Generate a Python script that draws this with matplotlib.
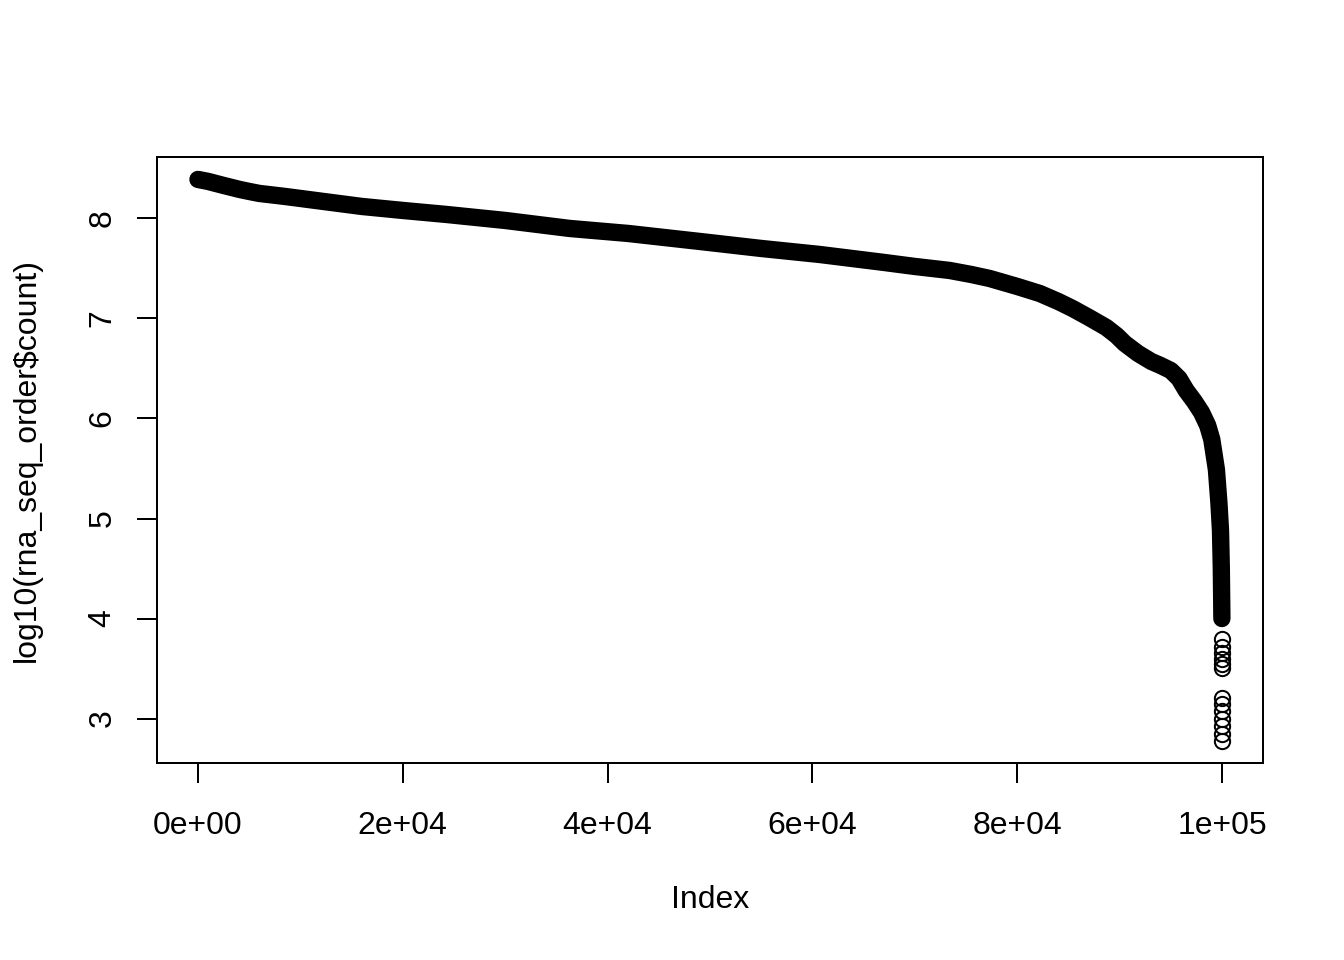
import numpy as np
import matplotlib
matplotlib.use("Agg")
import matplotlib.pyplot as plt

# sorted read counts (log10)
curve_idx = [1, 1000, 2500, 4070, 5000, 6000, 8500, 10000, 12240, 16000,
             20000, 24260, 30000, 36300, 42000, 49000, 55000, 60700, 67000,
             70000, 73400, 75500, 77300, 80000, 82200, 84000, 85400, 87000,
             88700, 89700, 90500, 91800, 93100, 94000, 95000, 95800, 96500,
             97300, 98000, 98600, 99000, 99450, 99700, 99850, 99930, 99970,
             99985]
curve_val = [8.39, 8.37, 8.33, 8.29, 8.27, 8.25, 8.22, 8.20, 8.17, 8.12,
             8.08, 8.04, 7.98, 7.90, 7.85, 7.77, 7.70, 7.64, 7.56,
             7.52, 7.48, 7.44, 7.40, 7.32, 7.25, 7.17, 7.10, 7.01,
             6.91, 6.83, 6.75, 6.65, 6.57, 6.53, 6.48, 6.40, 6.28,
             6.17, 6.06, 5.93, 5.79, 5.49, 5.15, 4.88, 4.50, 4.15,
             4.00]

# lowest counts, visible as single circles
tail_idx = [99987, 99988, 99989, 99990, 99991, 99992, 99993,
            99994, 99995, 99996, 99997, 99998, 99999]
tail_val = [3.80, 3.72, 3.66, 3.60, 3.55, 3.51, 3.21,
            3.15, 3.08, 3.00, 2.93, 2.85, 2.78]

xticks = [0, 20000, 40000, 60000, 80000, 100000]
xtick_labels = ["0e+00", "2e+04", "4e+04", "6e+04", "8e+04", "1e+05"]
yticks = [3, 4, 5, 6, 7, 8]

plt.rcParams['font.family'] = ['Liberation Sans', 'DejaVu Sans']
plt.rcParams['font.size'] = 23

fig = plt.figure(figsize=(13.44, 9.6), dpi=100)
ax = fig.add_axes([157 / 1344, 1 - 763 / 960, 1106 / 1344, 606 / 960])

# dense points look like a thick band
ax.plot(curve_idx, curve_val, color='black', linewidth=12.5,
        solid_capstyle='round', solid_joinstyle='round')
ax.plot(tail_idx, tail_val, linestyle='none', marker='o', markersize=11,
        markerfacecolor='none', markeredgecolor='black', markeredgewidth=1.44)

n = 100000
lo, hi = min(tail_val), max(curve_val)
ax.set_xlim(1 - 0.04 * (n - 1), n + 0.04 * (n - 1))
ax.set_ylim(lo - 0.04 * (hi - lo), hi + 0.04 * (hi - lo))

ax.set_xticks(xticks)
ax.set_xticklabels(xtick_labels)
ax.set_yticks(yticks)
ax.set_yticklabels([str(v) for v in yticks])
for lbl in ax.get_yticklabels():
    lbl.set_rotation(90)
    lbl.set_va('center')

ax.tick_params(direction='out', length=14.4, width=1.44, color='black')
ax.tick_params(axis='x', pad=20)
ax.tick_params(axis='y', pad=14)
for sp in ax.spines.values():
    sp.set_linewidth(1.44)

ax.set_xlabel('Index')
ax.xaxis.label.set_va('center')
ax.xaxis.set_label_coords(0.5, -(900 - 763) / 606)
ax.set_ylabel('log10(rna_seq_order\\$count)')
ax.yaxis.label.set_va('center')
ax.yaxis.set_label_coords((27 - 157) / 1106, 0.5)

fig.savefig('out.png', dpi=100)
